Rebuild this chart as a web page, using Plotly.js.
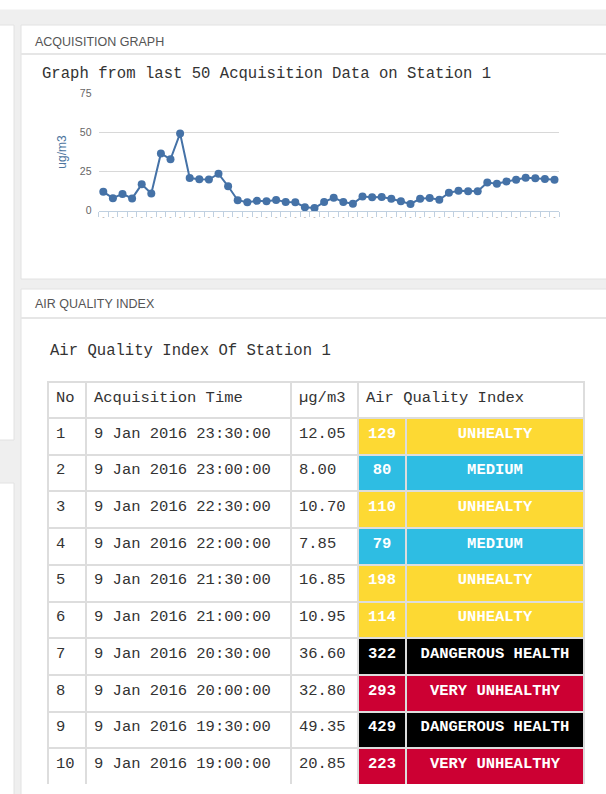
<!DOCTYPE html>
<html><head><meta charset="utf-8">
<script src="https://cdn.plot.ly/plotly-3.0.1.min.js"></script>
<style>html,body{margin:0;padding:0;background:#fff;}#chart{width:606px;height:794px;}</style>
</head><body><div id="chart"></div>
<script>
// ---- graph data (last acquisitions, most recent first) ----
const pmSeries = [12.05, 8.00, 10.70, 7.85, 16.85, 10.95, 36.60, 32.80, 49.35, 20.85,
  20.1, 19.9, 23.6, 15.6, 6.7, 5.4, 6.3, 6.0, 6.9, 5.5,
  5.4, 2.2, 1.7, 5.5, 8.3, 5.5, 4.4, 9.0, 8.6, 8.8,
  7.6, 6.0, 4.3, 7.6, 8.1, 7.0, 11.4, 12.7, 12.4, 12.4,
  18.0, 17.2, 18.7, 19.7, 21.0, 20.7, 20.3, 19.7];
const yTicks = [0, 25, 50, 75];

// ---- table data ----
const rowNo = [1, 2, 3, 4, 5, 6, 7, 8, 9, 10];
const acqTime = ['9 Jan 2016 23:30:00', '9 Jan 2016 23:00:00', '9 Jan 2016 22:30:00', '9 Jan 2016 22:00:00',
  '9 Jan 2016 21:30:00', '9 Jan 2016 21:00:00', '9 Jan 2016 20:30:00', '9 Jan 2016 20:00:00',
  '9 Jan 2016 19:30:00', '9 Jan 2016 19:00:00'];
const pmTable = [12.05, 8.00, 10.70, 7.85, 16.85, 10.95, 36.60, 32.80, 49.35, 20.85];
const aqiValue = [129, 80, 110, 79, 198, 114, 322, 293, 429, 223];
const aqiCategory = ['UNHEALTY', 'MEDIUM', 'UNHEALTY', 'MEDIUM', 'UNHEALTY', 'UNHEALTY',
  'DANGEROUS HEALTH', 'VERY UNHEALTHY', 'DANGEROUS HEALTH', 'VERY UNHEALTHY'];
const headerLabels = ['No', 'Acquisition Time', 'µg/m3', 'Air Quality Index'];

const categoryColor = {'MEDIUM': '#2ebde3', 'UNHEALTY': '#fdd933', 'VERY UNHEALTHY': '#cc0033', 'DANGEROUS HEALTH': '#000000'};

const W = 606, H = 794;
const px = x => x / W, py = y => 1 - y / H;
const MONO = '"Courier New", "Liberation Mono", monospace';
const SANS = 'Arial, "Liberation Sans", sans-serif';

function rect(x0, y0, x1, y1, fill, lineColor) {
  return {type: 'rect', xref: 'paper', yref: 'paper', layer: 'below',
    x0: px(x0), x1: px(x1), y0: py(y1), y1: py(y0),
    fillcolor: fill, line: {color: lineColor || fill, width: 1}};
}
function hline(x0, x1, y, color, w) {
  return {type: 'line', xref: 'paper', yref: 'paper', layer: 'below',
    x0: px(x0), x1: px(x1), y0: py(y), y1: py(y), line: {color: color, width: w || 1}};
}

const xIdx = pmSeries.map((v, i) => i);

const lineTrace = {
  type: 'scatter', mode: 'lines+markers', x: xIdx, y: pmSeries,
  line: {color: '#4572a7', width: 2}, marker: {color: '#4572a7', size: 8},
  hoverinfo: 'skip', showlegend: false, cliponaxis: false
};

const pmText = pmTable.map(v => v.toFixed(2));
const cols = [rowNo, acqTime, pmText, aqiValue, aqiCategory];
const catFill = aqiCategory.map(c => categoryColor[c]);
const baseFont = '#333333';
const colAlign = ['left', 'left', 'left', 'center', 'center'];
const colWeight = ['normal', 'normal', 'normal', 'bold', 'bold'];
const colFontColor = [baseFont, baseFont, baseFont, '#ffffff', '#ffffff'];
const white = rowNo.slice(1).map(() => '#ffffff');

// header-only table (merged "Air Quality Index" header)
const headTable = {
  type: 'table', domain: {x: [px(48), px(584)], y: [py(418), py(382)]},
  columnwidth: [38, 205, 67, 226],
  header: {values: headerLabels, height: 36, align: 'left',
    fill: {color: '#ffffff'}, line: {color: '#dddddd', width: 2},
    font: {family: MONO, size: 15.5, color: baseFont}},
  cells: {values: [[], [], [], []]}
};

// body table: first data row is drawn as the table's header row
const bodyTable = {
  type: 'table', domain: {x: [px(48), px(584)], y: [py(785), py(418)]},
  columnwidth: [38, 205, 67, 48, 178],
  header: {values: cols.map(c => c[0]), height: 36.7, align: colAlign,
    fill: {color: ['#ffffff', '#ffffff', '#ffffff', catFill[0], catFill[0]]},
    line: {color: '#dddddd', width: 2},
    font: {family: MONO, size: 15.5, color: colFontColor, weight: colWeight}},
  cells: {values: cols.map(c => c.slice(1)), height: 36.7, align: colAlign,
    fill: {color: [white, white, white, catFill.slice(1), catFill.slice(1)]},
    line: {color: '#dddddd', width: 2},
    font: {family: MONO, size: 15.5, color: colFontColor, weight: colWeight}}
};

const shapes = [
  rect(-2, 10, 608, 800, '#efefef'),
  rect(-2, 25, 14, 440, '#ffffff', '#e2e2e2'),
  rect(-2, 483, 14, 800, '#ffffff', '#e2e2e2'),
  rect(21, 25, 612, 279, '#ffffff', '#e2e2e2'),
  hline(21, 606, 54, '#e6e6e6', 2),
  rect(21, 289, 612, 800, '#ffffff', '#e2e2e2'),
  hline(21, 606, 318, '#e6e6e6', 2)
];

const annotations = [
  {text: 'ACQUISITION GRAPH', x: px(33), y: py(42), xanchor: 'left', yanchor: 'middle',
    font: {family: SANS, size: 12.5, color: '#555555'}},
  {text: 'AIR QUALITY INDEX', x: px(33), y: py(304), xanchor: 'left', yanchor: 'middle',
    font: {family: SANS, size: 12.5, color: '#555555'}},
  {text: 'Graph from last 50 Acquisition Data on Station 1', x: px(40), y: py(74), xanchor: 'left', yanchor: 'middle',
    font: {family: MONO, size: 15.6, color: '#333333'}},
  {text: 'Air Quality Index Of Station 1', x: px(48), y: py(351), xanchor: 'left', yanchor: 'middle',
    font: {family: MONO, size: 15.6, color: '#333333'}}
].map(a => Object.assign({xref: 'paper', yref: 'paper', showarrow: false}, a));

const layout = {
  width: W, height: H, autosize: false,
  margin: {l: 0, r: 0, t: 0, b: 0},
  paper_bgcolor: '#ffffff', plot_bgcolor: 'rgba(0,0,0,0)',
  showlegend: false,
  xaxis: {domain: [px(98.5), px(559.3)], range: [-0.5, xIdx.length - 0.5],
    showgrid: false, zeroline: false, showline: true, linecolor: '#c0d0e0', linewidth: 1,
    tickmode: 'array', tickvals: xIdx, ticktext: xIdx.map(() => '-'), ticks: '',
    tickfont: {family: SANS, size: 7, color: '#999999'}, ticklabelstandoff: -1,
    minor: {tickmode: 'array', tickvals: xIdx.map(i => i - 0.5).concat([xIdx.length - 0.5]),
      ticks: 'outside', ticklen: 5, tickcolor: '#c0d0e0', tickwidth: 1, showgrid: false},
    fixedrange: true},
  yaxis: {domain: [py(210.7), py(93.3)], range: [0, 75],
    tickmode: 'array', tickvals: yTicks, showgrid: true, gridcolor: '#d8d8d8', gridwidth: 1,
    zeroline: false, showline: false, ticks: '', ticklabelstandoff: 6,
    tickfont: {family: SANS, size: 10.5, color: '#666666'},
    title: {text: 'ug/m3', font: {family: SANS, size: 12, color: '#4d759e'}, standoff: 10},
    fixedrange: true},
  shapes: shapes,
  annotations: annotations
};

Plotly.newPlot('chart', [lineTrace, headTable, bodyTable], layout, {displayModeBar: false, staticPlot: true});
</script>
</body></html>
